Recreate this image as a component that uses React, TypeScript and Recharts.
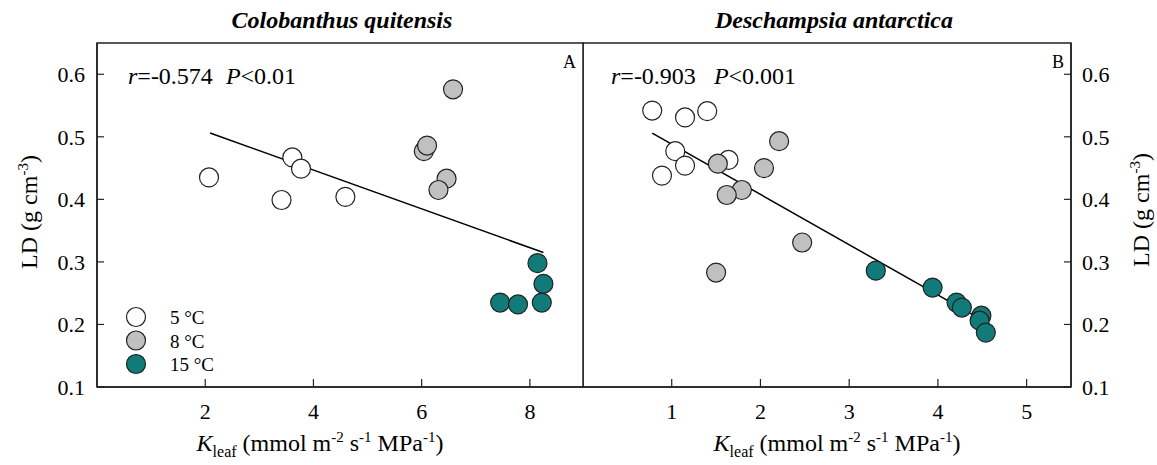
import React from "react";
import {
  ScatterChart, Scatter, XAxis, YAxis, ReferenceLine, ReferenceArea,
} from "recharts";

const FONT = "'Liberation Serif', 'Times New Roman', serif";

// Colobanthus quitensis (panel A)
const a5 = [
  { x: 2.07, y: 0.435 }, { x: 3.41, y: 0.399 }, { x: 3.61, y: 0.467 },
  { x: 3.77, y: 0.449 }, { x: 4.59, y: 0.404 },
];
const a8 = [
  { x: 6.58, y: 0.576 }, { x: 6.04, y: 0.477 }, { x: 6.1, y: 0.486 },
  { x: 6.46, y: 0.433 }, { x: 6.31, y: 0.415 },
];
const a15 = [
  { x: 8.14, y: 0.298 }, { x: 8.25, y: 0.265 }, { x: 8.22, y: 0.235 },
  { x: 7.45, y: 0.235 }, { x: 7.78, y: 0.232 },
];
const regA = [{ x: 2.09, y: 0.506 }, { x: 8.25, y: 0.315 }];

// Deschampsia antarctica (panel B)
const b5 = [
  { x: 0.78, y: 0.542 }, { x: 1.15, y: 0.531 }, { x: 1.4, y: 0.541 },
  { x: 1.04, y: 0.477 }, { x: 1.15, y: 0.454 }, { x: 0.89, y: 0.438 },
  { x: 1.64, y: 0.463 },
];
const b8 = [
  { x: 2.21, y: 0.493 }, { x: 1.52, y: 0.457 }, { x: 2.04, y: 0.45 },
  { x: 1.79, y: 0.415 }, { x: 1.62, y: 0.407 }, { x: 2.47, y: 0.331 },
  { x: 1.5, y: 0.283 },
];
const b15 = [
  { x: 3.3, y: 0.286 }, { x: 3.94, y: 0.259 }, { x: 4.21, y: 0.235 },
  { x: 4.27, y: 0.227 }, { x: 4.49, y: 0.214 }, { x: 4.47, y: 0.206 },
  { x: 4.54, y: 0.187 },
];
const regB = [{ x: 0.78, y: 0.506 }, { x: 4.56, y: 0.202 }];

const yTicks = [0.1, 0.2, 0.3, 0.4, 0.5, 0.6];
const xTicksA = [2, 4, 6, 8];
const xTicksB = [1, 2, 3, 4, 5];

const series = [
  { name: "5 °C", fill: "#ffffff" },
  { name: "8 °C", fill: "#c0c0c0" },
  { name: "15 °C", fill: "#107b79" },
];

const dot = (fill: string) => (p: any) => (
  <circle cx={p.cx} cy={p.cy} r={9.5} fill={fill} stroke="#222" strokeWidth={1.2} />
);

const tickStyle = { fill: "#000", fontSize: 22, fontFamily: FONT };
const axisLine = { stroke: "#222", strokeWidth: 1.5 };
const tickLine = { stroke: "#222", strokeWidth: 1.2 };

function XLabel({ cx }: { cx: number }) {
  return (
    <text x={cx} y={451} textAnchor="middle" fontSize={24} fontFamily={FONT}>
      <tspan fontStyle="italic">K</tspan>
      <tspan fontSize={16} dy={6}>leaf</tspan>
      <tspan dy={-6}> (mmol m</tspan>
      <tspan fontSize={15} dy={-9}>-2</tspan>
      <tspan dy={9}> s</tspan>
      <tspan fontSize={15} dy={-9}>-1</tspan>
      <tspan dy={9}> MPa</tspan>
      <tspan fontSize={15} dy={-9}>-1</tspan>
      <tspan dy={9}>)</tspan>
    </text>
  );
}

function YLabel({ x, y }: { x: number; y: number }) {
  return (
    <text x={x} y={y} textAnchor="middle" fontSize={24} fontFamily={FONT}
      transform={`rotate(-90 ${x} ${y})`}>
      LD (g cm<tspan fontSize={15} dy={-9}>-3</tspan><tspan dy={9}>)</tspan>
    </text>
  );
}

export default function App() {
  const sets = [a5, a8, a15];
  const setsB = [b5, b8, b15];
  return (
    <div style={{ position: "absolute", left: 0, top: 0, width: 1157, height: 465, background: "#fff" }}>
      <div style={{ position: "absolute", left: 0, top: 0 }}>
        <ScatterChart width={584} height={465} margin={{ top: 43, right: 0, bottom: 77, left: 96 }}>
          <XAxis type="number" dataKey="x" domain={[0, 9]} ticks={xTicksA} height={1}
            tickSize={-8} tickMargin={24} tick={tickStyle} axisLine={axisLine}
            tickLine={tickLine} allowDataOverflow />
          <YAxis type="number" dataKey="y" domain={[0.1, 0.65]} ticks={yTicks} width={1}
            tickSize={-7} tickMargin={19} tick={tickStyle} axisLine={axisLine}
            tickLine={tickLine} tickFormatter={(v: number) => v.toFixed(1)} allowDataOverflow />
          <ReferenceArea x1={0} x2={9} y1={0.1} y2={0.65} fill="none" stroke="#222" strokeWidth={1.5} />
          <ReferenceLine segment={regA} stroke="#000" strokeWidth={1.5} />
          {sets.map((d, i) => (
            <Scatter key={i} name={series[i].name} data={d} shape={dot(series[i].fill)} isAnimationActive={false} />
          ))}
        </ScatterChart>
      </div>
      <div style={{ position: "absolute", left: 0, top: 0 }}>
        <ScatterChart width={1157} height={465} margin={{ top: 43, right: 85, bottom: 77, left: 583 }}>
          <XAxis type="number" dataKey="x" domain={[0, 5.5]} ticks={xTicksB} height={1}
            tickSize={-8} tickMargin={24} tick={tickStyle} axisLine={axisLine}
            tickLine={tickLine} allowDataOverflow />
          <YAxis type="number" dataKey="y" orientation="right" domain={[0.1, 0.65]} ticks={yTicks} width={1}
            tickSize={-7} tickMargin={18} tick={tickStyle} axisLine={axisLine}
            tickLine={tickLine} tickFormatter={(v: number) => v.toFixed(1)} allowDataOverflow />
          <ReferenceArea x1={0} x2={5.5} y1={0.1} y2={0.65} fill="none" stroke="#222" strokeWidth={1.5} />
          <ReferenceLine segment={regB} stroke="#000" strokeWidth={1.5} />
          {setsB.map((d, i) => (
            <Scatter key={i} name={series[i].name} data={d} shape={dot(series[i].fill)} isAnimationActive={false} />
          ))}
        </ScatterChart>
      </div>
      <svg width={1157} height={465} style={{ position: "absolute", left: 0, top: 0, pointerEvents: "none" }}>
        <text x={342} y={28} textAnchor="middle" fontSize={24} fontWeight="bold" fontStyle="italic" fontFamily={FONT}>
          Colobanthus quitensis
        </text>
        <text x={834} y={28} textAnchor="middle" fontSize={24} fontWeight="bold" fontStyle="italic" fontFamily={FONT}>
          Deschampsia antarctica
        </text>
        <text x={128} y={84} fontSize={24} fontFamily={FONT}>
          <tspan fontStyle="italic">r</tspan>=-0.574
          <tspan fontStyle="italic" dx={13}>P</tspan>&lt;0.01
        </text>
        <text x={611} y={84} fontSize={24} fontFamily={FONT}>
          <tspan fontStyle="italic">r</tspan>=-0.903
          <tspan fontStyle="italic" dx={18}>P</tspan>&lt;0.001
        </text>
        <text x={576} y={68} textAnchor="end" fontSize={18} fontFamily={FONT}>A</text>
        <text x={1064} y={68} textAnchor="end" fontSize={18} fontFamily={FONT}>B</text>
        {series.map((s, i) => (
          <g key={s.name}>
            <circle cx={136} cy={317 + i * 23.5} r={9.5} fill={s.fill} stroke="#222" strokeWidth={1.2} />
            <text x={170} y={324 + i * 23.5} fontSize={19} fontFamily={FONT}>{s.name}</text>
          </g>
        ))}
        <XLabel cx={320} />
        <XLabel cx={837} />
        <YLabel x={37} y={212} />
        <YLabel x={1149} y={210} />
      </svg>
    </div>
  );
}
